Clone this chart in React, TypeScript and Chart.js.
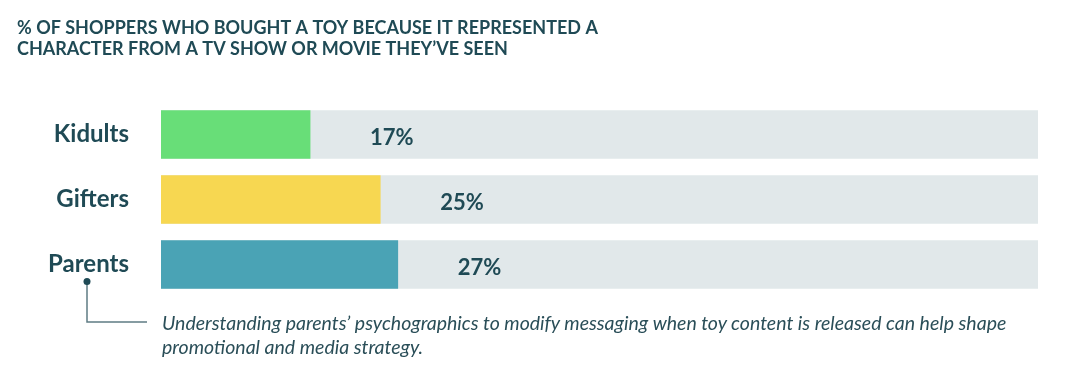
import React, { useEffect, useRef } from "react";
import { Chart, registerables } from "chart.js";

Chart.register(...registerables);

const categories = ["Kidults", "Gifters", "Parents"];
const values = [17, 25, 27];
const totals = [100, 100, 100];
const barColors = ["#68de78", "#f7d751", "#4aa3b5"];
const titleLines = [
  "% OF SHOPPERS WHO BOUGHT A TOY BECAUSE IT REPRESENTED A",
  "CHARACTER FROM A TV SHOW OR MOVIE THEY\u2019VE SEEN",
];
const noteLines = [
  "Understanding parents\u2019 psychographics to modify messaging when toy content is released can help shape",
  "promotional and media strategy.",
];

const TEXT = "#1f4a55";
const FONT = "Lato, 'Open Sans', sans-serif";

const valueLabels = {
  id: "valueLabels",
  afterDatasetsDraw(chart: any) {
    const ctx = chart.ctx;
    const meta = chart.getDatasetMeta(0);
    ctx.save();
    ctx.font = `bold 22px ${FONT}`;
    ctx.fillStyle = TEXT;
    ctx.textAlign = "left";
    ctx.textBaseline = "middle";
    meta.data.forEach((bar: any, i: number) => {
      ctx.fillText(values[i] + "%", bar.x + 60, bar.y + 3);
    });
    // connector from the Parents label to the note
    const yScale = chart.scales.y;
    const py = yScale.getPixelForValue(2);
    const dotX = 87;
    const dotY = py + 17;
    const lineY = 322;
    ctx.strokeStyle = "#5f7c84";
    ctx.lineWidth = 1.5;
    ctx.beginPath();
    ctx.moveTo(dotX, dotY);
    ctx.lineTo(dotX, lineY);
    ctx.lineTo(147, lineY);
    ctx.stroke();
    ctx.fillStyle = TEXT;
    ctx.beginPath();
    ctx.arc(dotX, dotY, 3.5, 0, Math.PI * 2);
    ctx.fill();
    ctx.restore();
  },
};

export default function App() {
  const ref = useRef<HTMLCanvasElement>(null);
  useEffect(() => {
    if (!ref.current) return;
    const chart = new Chart(ref.current, {
      type: "bar",
      data: {
        labels: categories,
        datasets: [
          {
            data: values,
            backgroundColor: barColors,
            grouped: false,
            order: 0,
            barThickness: 48,
          } as any,
          {
            data: totals,
            backgroundColor: "#e1e8ea",
            grouped: false,
            order: 1,
            barThickness: 48,
          } as any,
        ],
      },
      options: {
        indexAxis: "y",
        animation: false,
        responsive: false,
        layout: { padding: { left: 17, right: 42, top: 0, bottom: 81 } },
        plugins: {
          legend: { display: false },
          tooltip: { enabled: false },
          title: {
            display: true,
            text: titleLines,
            align: "start",
            color: TEXT,
            font: { family: FONT, size: 18, weight: "bold", lineHeight: "21px" },
            padding: { top: 18, bottom: 42 },
          },
        },
        scales: {
          x: { display: false, min: 0, max: 100 },
          y: {
            grid: { display: false, drawTicks: false },
            border: { display: false },
            ticks: {
              color: TEXT,
              padding: 32,
              font: { family: FONT, size: 24, weight: "bold" },
            },
            afterFit: (scale: any) => {
              scale.width = 144;
            },
          },
        },
      },
      plugins: [valueLabels],
    });
    return () => chart.destroy();
  }, []);
  return (
    <div style={{ position: "absolute", left: 0, top: 0, width: 1080, height: 378, background: "#fff" }}>
      <canvas ref={ref} width={1080} height={378} style={{ display: "block" }} />
      <div
        style={{
          position: "absolute",
          left: 162,
          top: 311,
          fontFamily: FONT,
          fontStyle: "italic",
          fontSize: 19.5,
          lineHeight: "24px",
          color: "#2a4e58",
          whiteSpace: "nowrap",
        }}
      >
        {noteLines.map((l, i) => (
          <div key={i}>{l}</div>
        ))}
      </div>
    </div>
  );
}
